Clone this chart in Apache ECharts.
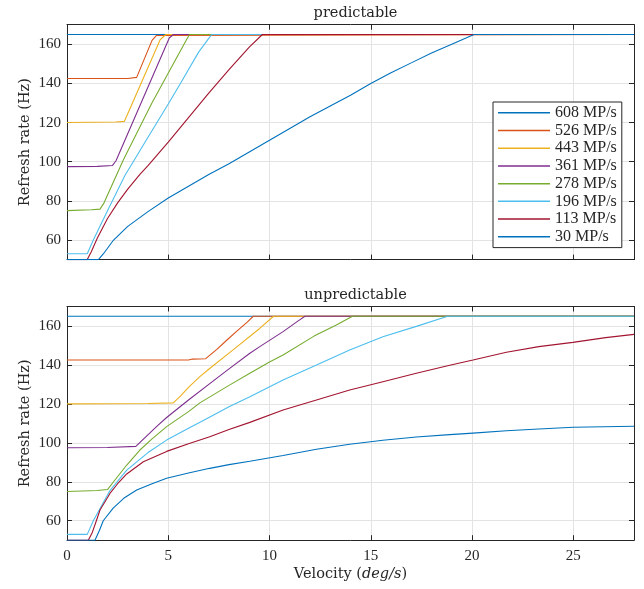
<!DOCTYPE html>
<html>
<head>
<meta charset="utf-8">
<script src="https://cdn.jsdelivr.net/npm/echarts@6/dist/echarts.min.js"></script>
<style>
html,body{margin:0;padding:0;background:#fff;}
#chart{width:644px;height:589px;}
</style>
</head>
<body>
<div id="chart"></div>
<script>
// ---- data ----
var seriesNames = ['608 MP/s','526 MP/s','443 MP/s','361 MP/s','278 MP/s','196 MP/s','113 MP/s','30 MP/s'];
var seriesColors = ['#0072BD','#D95319','#EDB120','#7E2F8E','#77AC30','#4DBEEE','#A2142F','#0072BD'];
var titles = ['predictable','unpredictable'];

// predictable: [velocity deg/s, refresh rate Hz]
var pred608 = [[0,165],[28,165]];
var pred526 = [[0,142.5],[3.0,142.5],[3.44,143.1],[4.2,162],[4.42,164.5],[4.5,165],[28,165]];
var pred443 = [[0,120],[2.4,120.3],[2.83,120.6],[3.0,124.5],[4.6,162.3],[4.88,165],[28,165]];
var pred361 = [[0,97.5],[1.5,97.6],[2.25,98.1],[2.42,100.5],[5.05,163.2],[5.25,165],[28,165]];
var pred278 = [[0,75],[1.2,75.5],[1.63,75.8],[1.83,79],[2.78,100.9],[4.18,129.8],[5.9,162.3],[6.05,165],[28,165]];
var pred196 = [[0,53],[1.0,53],[1.3,60],[2.0,75],[2.86,93],[4.0,112.5],[5.0,129.5],[5.6,140],[6.5,156],[7.0,163],[7.15,165],[28,165]];
var pred113 = [[0,50],[1.0,50],[1.2,54],[1.5,61],[2.0,71],[2.5,79],[3.0,86],[3.6,93.5],[4.0,98],[5.0,110],[6.0,122.5],[7.0,135],[8.0,147],[9.0,158.5],[9.65,165],[28,165]];
var pred30 = [[0,50],[1.55,50],[1.8,53],[2.3,60],[3.0,67],[4.0,74.5],[5.0,81.5],[6.0,87.5],[7.0,93.5],[8.0,99],[9.0,105],[10,111],[11,117],[12,123],[13,128.5],[14,134],[15,140],[16,145.5],[17,150.5],[18,155.5],[19,160],[20.1,165],[28,165]];

// unpredictable
var unp608 = [[0,165],[28,165]];
var unp526 = [[0,142.5],[6.0,142.5],[6.2,143],[6.85,143.2],[7.4,148],[7.9,152.8],[8.4,157.5],[8.9,162],[9.2,165],[28,165]];
var unp443 = [[0,120],[4.0,120.2],[5.25,120.5],[5.6,124],[6.0,128.5],[6.56,134],[7.0,137.8],[8.2,147.7],[9.5,158.6],[10.2,165],[28,165]];
var unp361 = [[0,97.5],[2.0,97.6],[3.4,98.2],[4.42,108.3],[4.92,113],[6.0,122],[7.05,130.4],[8.0,138],[9.03,146],[9.52,149.4],[10.67,157.1],[11.4,162.5],[11.75,165],[28,165]];
var unp278 = [[0,75],[1.5,75.5],[2.0,76],[2.3,80],[2.95,88.6],[3.6,96.3],[4.2,102],[4.92,108.3],[6.0,116],[6.56,120.5],[8.0,129.5],[9.03,135.7],[10.0,141.5],[10.67,145.1],[12.2,154.8],[13.3,160.5],[14.1,165],[28,165]];
var unp196 = [[0,53],[1.0,53],[1.3,60],[2.12,75.5],[2.95,86],[4.0,95],[4.92,101.4],[6.0,107.5],[6.64,111],[8.0,118.5],[9.03,123.7],[10.67,132.3],[12.32,140],[13.96,147.7],[15.6,154.5],[17.25,159.8],[18.8,165],[28,165]];
var unp113 = [[0,50],[1.05,50],[1.25,54],[1.45,60],[1.63,65.5],[2.12,74],[2.5,79],[2.95,84],[3.77,90.3],[4.92,95.6],[6.0,99.5],[7.05,103.1],[8.0,106.8],[9.03,110.5],[10.67,116.9],[12.32,122],[13.96,127.1],[15.6,131.4],[17.25,135.7],[18.9,139.8],[20.05,142.5],[21.7,146.5],[23.3,149.4],[24.98,151.6],[26.6,154],[28,155.7]];
var unp30 = [[0,50],[1.38,50],[1.6,55],[1.79,60],[2.28,66.5],[2.8,71.5],[3.44,75.8],[4.2,79],[4.92,81.8],[6.0,84.5],[7.05,86.9],[8.0,88.8],[9.03,90.5],[10.67,93.5],[12.32,96.7],[13.96,99.3],[15.6,101.3],[17.25,103],[18.9,104.2],[20.05,105],[21.7,106.2],[23.3,107.1],[25,108],[28,108.5]];

var predData = [pred608,pred526,pred443,pred361,pred278,pred196,pred113,pred30];
var unpData = [unp608,unp526,unp443,unp361,unp278,unp196,unp113,unp30];

// ---- chart ----
var FONT = '"Liberation Serif", "DejaVu Serif", serif';
var TFONT = '"DejaVu Serif", "Liberation Serif", serif';
var AX = '#262626';
var GRIDC = '#e3e3e3';

var grids = [
  {left:67, top:24.7, width:567, height:234.9},
  {left:67, top:306.5, width:567, height:233.7}
];

function xAx(gi, pos, main, labels){
  return {
    type:'value', gridIndex:gi, position:pos, min:0, max:28, interval:5,
    axisLine:{show:true, onZero:false, lineStyle:{color:AX,width:1}},
    axisTick:{show:true, inside:true, length:5, lineStyle:{color:AX}},
    axisLabel:{show:labels, margin:8, color:AX, fontFamily:FONT, fontSize:15, showMaxLabel:false},
    splitLine:{show:main, lineStyle:{color:GRIDC,width:1}},
    name: (labels ? 'Velocity ({i|deg/s})' : ''),
    nameLocation:'middle', nameGap:27, nameMoveOverlap:false,
    nameTextStyle:{color:AX, fontFamily:TFONT, fontSize:14.5, rich:{i:{fontStyle:'italic', fontFamily:TFONT, fontSize:14.5, color:AX}}}
  };
}
function yAx(gi, pos, main){
  return {
    type:'value', gridIndex:gi, position:pos, min:50, max:170, splitNumber:6,
    axisLine:{show:true, onZero:false, lineStyle:{color:AX,width:1}},
    axisTick:{show:true, inside:true, length:5, lineStyle:{color:AX}},
    axisLabel:{show:main, margin:6, color:AX, fontFamily:FONT, fontSize:15, showMinLabel:false, showMaxLabel:false},
    splitLine:{show:main, lineStyle:{color:GRIDC,width:1}},
    name: main ? 'Refresh rate (Hz)' : '',
    nameLocation:'middle', nameGap:34, nameMoveOverlap:false,
    nameTextStyle:{color:AX, fontFamily:TFONT, fontSize:14.5}
  };
}

var series = [];
[predData, unpData].forEach(function(set, gi){
  set.forEach(function(d, i){
    series.push({
      type:'line', name:seriesNames[i], data:d,
      xAxisIndex: gi*2, yAxisIndex: gi*2,
      showSymbol:false, symbol:'none', animation:false,
      lineStyle:{color:seriesColors[i], width:1.1},
      itemStyle:{color:seriesColors[i]},
      clip:true
    });
  });
});

var option = {
  animation:false,
  backgroundColor:'#fff',
  title: [
    {text:titles[0], left:350.5, top:1, textAlign:'center', textStyle:{fontFamily:TFONT, fontSize:14.5, fontWeight:'normal', color:AX}},
    {text:titles[1], left:350.5, top:283, textAlign:'center', textStyle:{fontFamily:TFONT, fontSize:14.5, fontWeight:'normal', color:AX}}
  ],
  grid: grids,
  xAxis: [xAx(0,'bottom',true,false), xAx(0,'top',false,false), xAx(1,'bottom',true,true), xAx(1,'top',false,false)],
  yAxis: [yAx(0,'left',true), yAx(0,'right',false), yAx(1,'left',true), yAx(1,'right',false)],
  legend: {
    data: seriesNames.map(function(n){return {name:n};}),
    orient:'vertical', left:493, top:102,
    icon:'rect', itemWidth:52, itemHeight:1.5, itemGap:0,
    padding:[2,5,2,5],
    borderColor:AX, borderWidth:1, backgroundColor:'#fff',
    textStyle:{fontFamily:FONT, fontSize:16, color:AX, lineHeight:17.7},
    selectedMode:false
  },
  series: series
};

var chart = echarts.init(document.getElementById('chart'), null, {renderer:'canvas'});
chart.setOption(option);
</script>
</body>
</html>
